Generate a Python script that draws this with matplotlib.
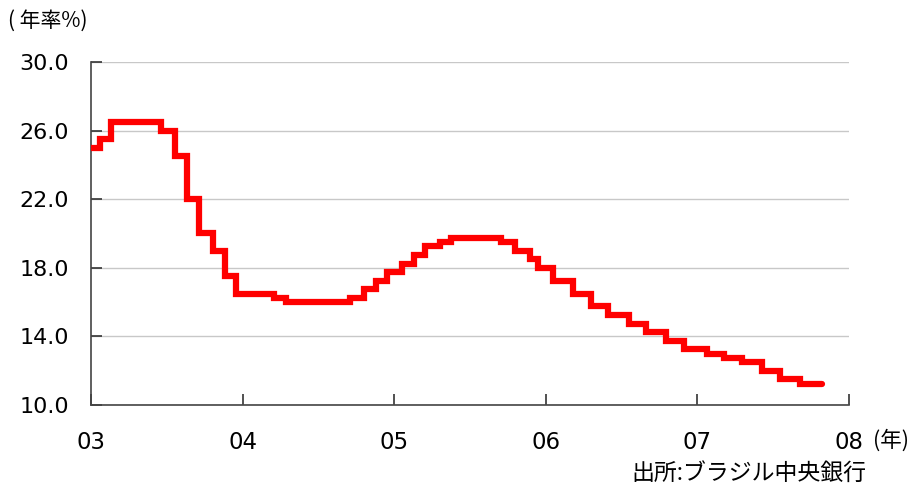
import matplotlib
matplotlib.use("Agg")
import matplotlib.pyplot as plt
from datetime import datetime

# Brazil policy rate (SELIC target), annual %
change_dates = ["2003-01-01", "2003-01-22", "2003-02-19", "2003-06-18", "2003-07-23",
                "2003-08-20", "2003-09-17", "2003-10-22", "2003-11-19", "2003-12-17",
                "2004-03-17", "2004-04-14", "2004-09-15", "2004-10-20", "2004-11-17",
                "2004-12-15", "2005-01-19", "2005-02-16", "2005-03-16", "2005-04-20",
                "2005-05-18", "2005-09-14", "2005-10-19", "2005-11-23", "2005-12-14",
                "2006-01-18", "2006-03-08", "2006-04-19", "2006-05-31", "2006-07-19",
                "2006-08-30", "2006-10-18", "2006-11-29", "2007-01-24", "2007-03-07",
                "2007-04-18", "2007-06-06", "2007-07-18", "2007-09-05", "2007-10-28"]
rates = [25.00, 25.50, 26.50, 26.00, 24.50,
         22.00, 20.00, 19.00, 17.50, 16.50,
         16.25, 16.00, 16.25, 16.75, 17.25,
         17.75, 18.25, 18.75, 19.25, 19.50,
         19.75, 19.50, 19.00, 18.50, 18.00,
         17.25, 16.50, 15.75, 15.25, 14.75,
         14.25, 13.75, 13.25, 13.00, 12.75,
         12.50, 12.00, 11.50, 11.25, 11.25]

year_ticks = ["2003", "2004", "2005", "2006", "2007", "2008"]
year_labels = ["03", "04", "05", "06", "07", "08"]
y_ticks = [10.0, 14.0, 18.0, 22.0, 26.0, 30.0]

jp = ["Noto Sans CJK JP", "DejaVu Sans"]
num_font = "DejaVu Sans"

fig = plt.figure(figsize=(9.18, 4.87), dpi=100)
ax = fig.add_axes([91 / 918, 1 - 405 / 487, (849 - 91) / 918, (405 - 62) / 487])

x = [datetime.strptime(d, "%Y-%m-%d") for d in change_dates]
ax.step(x, rates, where="post", color="#ff0000", lw=4.5,
        solid_capstyle="round", solid_joinstyle="miter", zorder=3)

ax.set_xlim(datetime(2003, 1, 1), datetime(2008, 1, 1))
ax.set_ylim(10, 30)

ax.set_yticks(y_ticks)
ax.set_yticklabels([f"{v:.1f}" for v in y_ticks], fontfamily=num_font, fontsize=16)
ax.yaxis.grid(True, color="#c8c8c8", lw=1.0)
ax.set_axisbelow(True)

xt = [datetime(int(y), 1, 1) for y in year_ticks]
ax.set_xticks(xt)
ax.set_xticklabels(year_labels, fontfamily=num_font, fontsize=16.5)

ax.tick_params(axis="both", direction="in", length=8, width=1.2, color="#333333")
ax.tick_params(axis="y", pad=16)
ax.tick_params(axis="x", pad=19)

for s in ["top", "right"]:
    ax.spines[s].set_visible(False)
for s in ["left", "bottom"]:
    ax.spines[s].set_color("#444444")
    ax.spines[s].set_linewidth(1.2)

fig.text(8 / 918, 1 - 21 / 487, "( 年率%)", family=jp, fontsize=15, va="center", ha="left")
fig.text(873 / 918, 1 - 441 / 487, "(年)", family=jp, fontsize=15.5, va="center", ha="left")
fig.text(866 / 918, 1 - 473 / 487, "出所:ブラジル中央銀行", family=jp, fontsize=16.5,
         va="center", ha="right")

fig.savefig("out.png", dpi=100)
